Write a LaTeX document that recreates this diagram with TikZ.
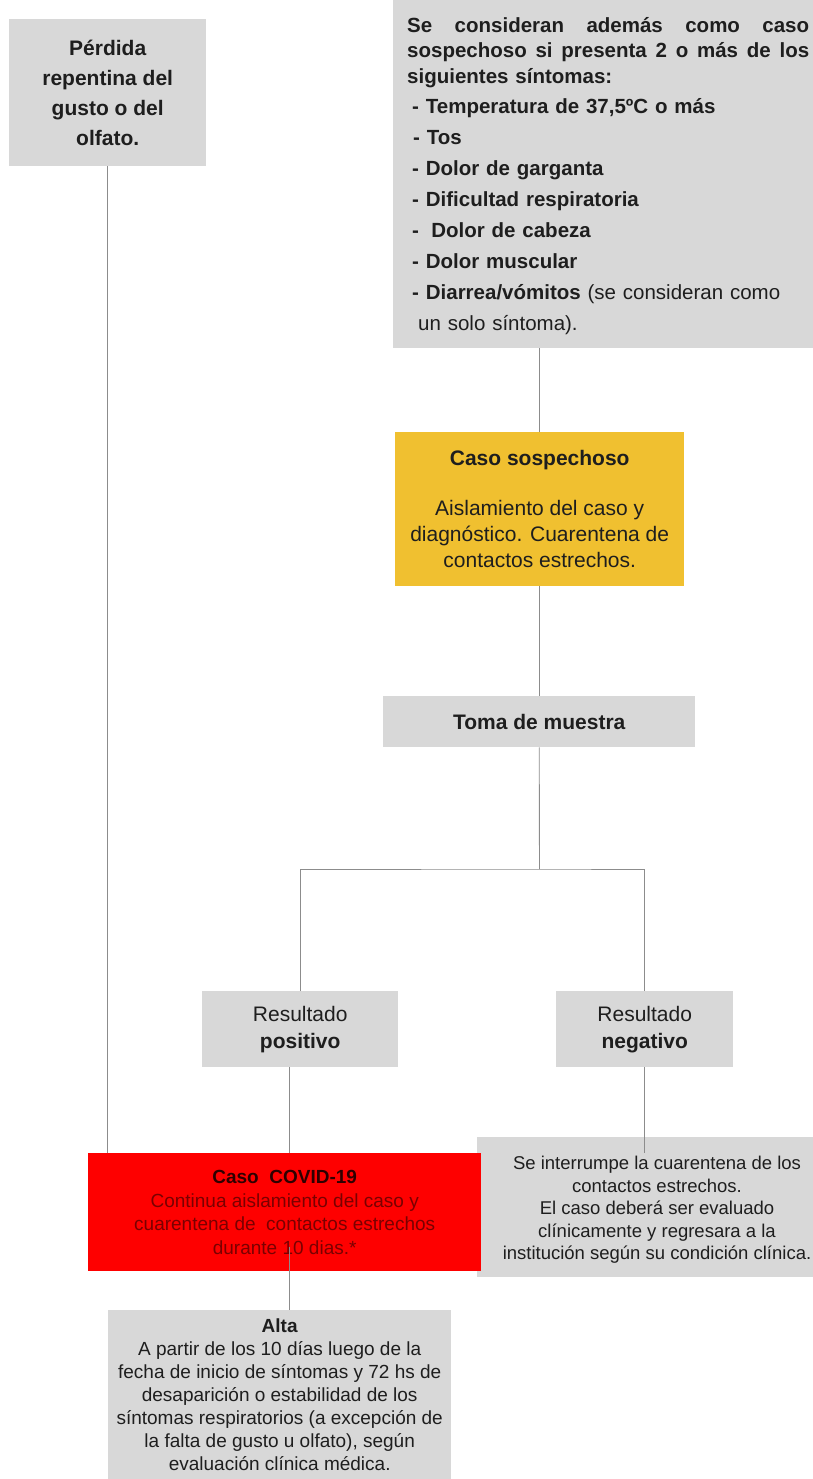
\documentclass[tikz,border=0pt]{standalone}
\usepackage{fontspec}
\setmainfont{Liberation Sans}
\usetikzlibrary{calc}
\definecolor{boxgray}{HTML}{D8D8D8}
\definecolor{sunyellow}{HTML}{F0C030}
\definecolor{alertred}{HTML}{FE0000}
\definecolor{linegray}{HTML}{8C8C8C}
\definecolor{textc}{HTML}{1E1E1E}
\definecolor{redbody}{HTML}{7A0000}
\definecolor{redtitle}{HTML}{2E0000}
\begin{document}
\begin{tikzpicture}[x=1pt,y=-1pt,
  panel/.style={fill=boxgray, inner sep=0pt, anchor=north west, align=center, text=textc},
  conn/.style={draw=linegray, line width=0.9pt}]
\useasboundingbox (0,0) rectangle (813,1479);
% boxes
\node[panel, minimum width=197pt, minimum height=147pt,
  font=\fontsize{21}{30}\selectfont\bfseries] (per) at (9,19)
  {Pérdida\\repentina del\\gusto o del\\olfato.};
\node[panel, minimum width=420pt, minimum height=348pt] (sym) at (393,0) {};
\node[anchor=north west, inner sep=0pt, text width=402pt, align=left, text=textc,
  font=\fontsize{20.5}{31}\selectfont\bfseries] (symtxt) at (407,17)
  {\makebox[402pt][l]{Se\hfill consideran\hfill además\hfill como\hfill caso}\\[-5.5pt]
   \makebox[402pt][l]{sospechoso\hfill si\hfill presenta\hfill 2\hfill o\hfill más\hfill de\hfill los}\\[-5.5pt]
   siguientes síntomas:\\[-1pt]
   \hspace*{5pt}- Temperatura de 37,5ºC o más\\
   \hspace*{6pt}- Tos\\
   \hspace*{5pt}- Dolor de garganta\\
   \hspace*{5pt}- Dificultad respiratoria\\
   \hspace*{5pt}-\hspace{0.6em}Dolor de cabeza\\
   \hspace*{5pt}- Dolor muscular\\
   \hspace*{5pt}- Diarrea/vómitos {\mdseries (se consideran como}\\
   \hspace*{11pt}{\mdseries un solo síntoma).}};
\node[panel, fill=sunyellow, minimum width=289pt, minimum height=154pt,
  font=\fontsize{21}{26}\selectfont] (sus) at (395,432)
  {\textbf{Caso sospechoso}\\[24pt]Aislamiento del caso y\\diagnóstico. Cuarentena de\\contactos estrechos.};
\node[panel, minimum width=312pt, minimum height=51pt,
  font=\fontsize{21}{26}\selectfont\bfseries] (toma) at (383,696)
  {\raisebox{-4pt}{Toma de muestra}};
\node[panel, minimum width=196pt, minimum height=76pt,
  font=\fontsize{21}{27}\selectfont] (pos) at (202,991)
  {Resultado\\\textbf{positivo}};
\node[panel, minimum width=177pt, minimum height=76pt,
  font=\fontsize{21}{27}\selectfont] (neg) at (556,991)
  {Resultado\\\textbf{negativo}};
\node[panel, minimum width=336pt, minimum height=140pt] (cons) at (477,1137) {};
\node[inner sep=0pt, align=center, text=textc,
  font=\fontsize{18.5}{22.5}\selectfont] (constxt) at (657,1210)
  {Se interrumpe la cuarentena de los\\contactos estrechos.\\El caso deberá ser evaluado\\clínicamente y regresara a la\\institución según su condición clínica.};
\node[panel, fill=alertred, minimum width=393pt, minimum height=118pt, text=redbody,
  font=\fontsize{19}{23.5}\selectfont] (red) at (88,1153)
  {\textcolor{redtitle}{\textbf{Caso\ \ COVID-19}}\\Continua\ aislamiento\ del\ caso\ y\\cuarentena de\ \ contactos estrechos\\durante 10 dias.*};
\node[panel, minimum width=343pt, minimum height=169pt,
  font=\fontsize{19}{23}\selectfont] (alta) at (108,1310)
  {\textbf{Alta}\\A partir de los 10 días luego de la\\fecha de inicio de síntomas y 72 hs de\\desaparición o estabilidad de los\\síntomas respiratorios (a excepción de\\la falta de gusto u olfato), según\\evaluación clínica médica.};
% connectors
\coordinate (split) at (539.5,869);
\coordinate (posout) at ([xshift=-11pt]pos.south);
\coordinate (altain) at ([xshift=9.5pt]alta.north);
\draw[conn] (per.south) -- (per.south |- red.north);
\draw[conn] (sus.north |- sym.south) -- (sus.north);
\draw[conn] (sus.south) -- (sus.south |- toma.north);
\draw[conn] (toma.south) -- (split);
\draw[conn] (pos.north) |- (split) -| (neg.north);
\draw[conn] (posout) -- (posout |- red.north);
\draw[conn] ($(altain |- red.south)+(0,-24)$) -- (altain);
\draw[conn] (neg.south) -- ($(neg.south |- cons.north)+(0,16)$);
\end{tikzpicture}
\end{document}
